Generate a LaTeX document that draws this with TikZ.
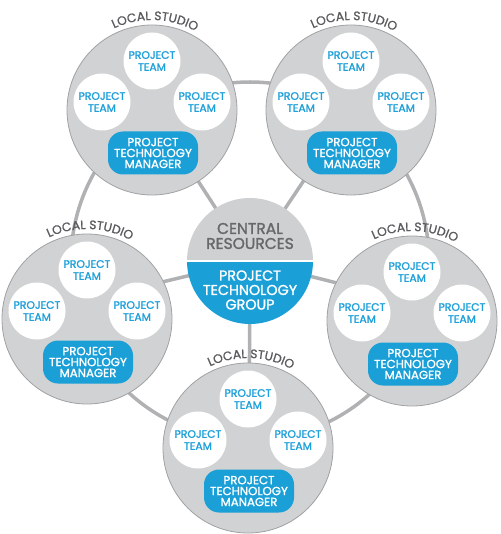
\documentclass[tikz,border=0pt]{standalone}
\usepackage{fontspec}
\setmainfont{Poppins}
\newfontfamily\pop[FakeBold=1.6]{Poppins}
\newfontfamily\popl[FakeBold=1.0]{Poppins}
\usetikzlibrary{decorations.text}
\definecolor{studiogray}{HTML}{D1D2D3}
\definecolor{studioline}{HTML}{A0A1A3}
\definecolor{ringgray}{HTML}{B0B1B3}
\definecolor{centralgray}{HTML}{CFD0D1}
\definecolor{pblue}{HTML}{1A9FD7}
\definecolor{teamblue}{HTML}{1EA0DA}
\definecolor{centraltext}{HTML}{67686A}
\definecolor{labgray}{HTML}{5A5B5D}
\newcommand\labfont{\popl\fontsize{12.3pt}{13pt}\selectfont}
\begin{document}
\begin{tikzpicture}[x=1pt,y=-1pt,
  studio/.style={circle,fill=studiogray,draw=studioline,line width=0.8pt,minimum size=170pt,inner sep=0pt},
  team/.style={circle,fill=white,minimum size=57pt,inner sep=0pt,align=center,text=teamblue,
    font=\pop\fontsize{10.8pt}{12pt}\selectfont},
  manager/.style={rectangle,rounded corners=15pt,fill=pblue,minimum width=90pt,minimum height=43pt,
    inner sep=0pt,align=center,text=white,font=\pop\fontsize{11.8pt}{10.9pt}\selectfont},
  ring/.style={draw=ringgray,line width=3.5pt},
  centraltxt/.style={align=center,inner sep=0pt}
]
\useasboundingbox (0,0) rectangle (500,534);
\coordinate (c) at (250,261);
% ring and spokes
\draw[ring] (c) circle[radius=179pt];
\coordinate (sp-tl) at (152,110);
\coordinate (sp-tr) at (351,110);
\coordinate (sp-l) at (87,300);
\coordinate (sp-r) at (412,302);
\coordinate (sp-b) at (249,448);
\foreach \s in {tl,tr,l,r,b} {\draw[ring] (c) -- (sp-\s);}
% studios
\foreach \n/\x/\y in {tl/152/110, tr/351/110, l/87/319, r/412/321, b/248/448} {
  \node[studio] (\n) at (\x,\y) {};
  \node[team] (\n-t) at (\x,\y-49) {PROJECT\\TEAM};
  \node[team] (\n-a) at (\x-50,\y-8) {PROJECT\\TEAM};
  \node[team] (\n-c) at (\x+50,\y-8) {PROJECT\\TEAM};
  \node[manager] (\n-m) at (\x+1,\y+43) {PROJECT\\TECHNOLOGY\\MANAGER};
  \begin{scope}[shift={(\n.center)},x=1pt,y=1pt]
    \path[decorate,decoration={text along path,text={|\labfont|LOCAL STUDIO},
      text align=center,text color=labgray}] (150:90) arc (150:26:90);
  \end{scope}
}
% central
\node[circle,minimum size=126pt,inner sep=0pt] (central) at (c) {};
\begin{scope}
  \clip (c) circle[radius=63pt];
  \fill[centralgray] (186,197) rectangle (314,261);
  \fill[pblue] (186,261) rectangle (314,325);
  \draw[white,line width=2.5pt] (186,261) -- (314,261);
\end{scope}
\node[centraltxt,text=centraltext,font=\pop\fontsize{15.5pt}{15pt}\selectfont] (cr) at (250,236) {CENTRAL\\RESOURCES};
\node[centraltxt,text=white,font=\pop\fontsize{14.3pt}{14.5pt}\selectfont] (ptg) at (250,290) {PROJECT\\TECHNOLOGY\\GROUP};
\end{tikzpicture}
\end{document}
